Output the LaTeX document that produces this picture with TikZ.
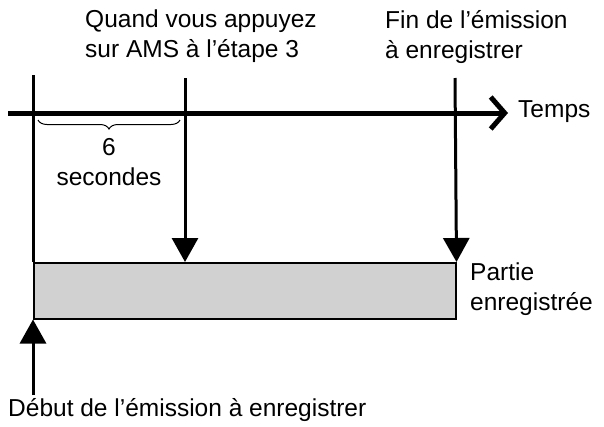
\documentclass[tikz,border=0pt]{standalone}
\usepackage{fontspec}
\setmainfont{Liberation Sans}
\usetikzlibrary{arrows.meta, decorations.pathreplacing, positioning}
\tikzset{
  lbl/.style={align=left, inner sep=0pt, font=\fontsize{24.5}{30}\selectfont},
  arrow/.style={line width=3pt, -{Triangle[length=24pt, width=26pt]}},
  axis/.style={line width=5pt, -{Straight Barb[length=14pt, width=32pt, line width=5pt]}}
}
\begin{document}
\begin{tikzpicture}[x=1pt, y=-1pt]
  \useasboundingbox (0,0) rectangle (604,426);
  % recorded part
  \node (part) [draw=black, line width=1.5pt, fill=black!18, minimum width=422pt, minimum height=56pt, anchor=north west, inner sep=0pt] at (33,262) {};
  % time axis
  \coordinate (t0) at (8,113);
  \coordinate (t1) at (508,113);
  \draw [axis] (t0) -- (t1);
  \node (temps) [lbl, anchor=west] at (518,112) {Temps};
  % markers
  \coordinate (m0) at (33,75);
  \coordinate (m1) at (185,78);
  \coordinate (m2) at (455,78);
  \draw [line width=3pt] (m0) -- (part.north west);
  \draw [arrow] (m1) -- (185,262);
  \draw [arrow] (m2) -- (part.north east);
  \coordinate (m3) at (33,395);
  \draw [arrow] (m3) -- (part.south west);
  % brace
  \coordinate (b0) at (38,120);
  \coordinate (b1) at (180,120);
  \draw [line width=1pt, decorate, decoration={brace, mirror, amplitude=9pt}] (b0) -- (b1);
  \node (secs) [lbl, align=center, anchor=north] at (109,138) {6\\secondes};
  % labels
  \node (ams) [lbl, anchor=north west] at (85,10) {Quand vous appuyez\\sur AMS à l’étape 3};
  \node (fin) [lbl, anchor=north west] at (385,10) {Fin de l’émission\\à enregistrer};
  \node (rec) [lbl, anchor=north west] at (470,263) {Partie\\enregistrée};
  \node (debut) [lbl, anchor=north west] at (8,398) {Début de l’émission à enregistrer};
\end{tikzpicture}
\end{document}
